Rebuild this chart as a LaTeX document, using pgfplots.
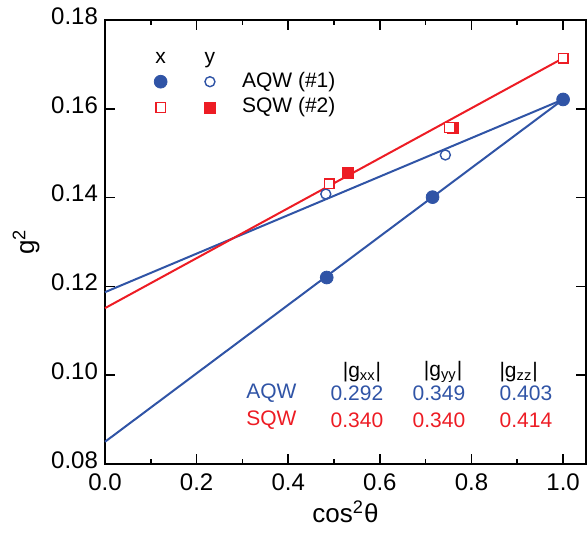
\documentclass[border=0pt]{standalone}
\usepackage{pgfplots}
\pgfplotsset{compat=1.18}
\usepackage{fontspec}
\setmainfont{Liberation Sans}
\definecolor{qblue}{RGB}{48,84,166}
\definecolor{qred}{RGB}{237,28,36}
\begin{document}
\begin{tikzpicture}
\begin{axis}[
  name=ax,
  scale only axis,
  width=240.5pt, height=222pt,
  xmin=0, xmax=1.05, ymin=0.08, ymax=0.18,
  xtick={0,0.2,0.4,0.6,0.8,1.0},
  minor x tick num=1,
  ytick={0.08,0.10,0.12,0.14,0.16,0.18},
  major tick length=5pt, minor tick length=2.5pt,
  every tick/.style={black, line width=0.8pt},
  axis line style={line width=0.9pt},
  /pgf/number format/assume math mode=true,
  tick label style={font=\fontsize{12}{14}\selectfont},
  xticklabel style={yshift=-1.5pt, /pgf/number format/.cd, fixed, fixed zerofill, precision=1},
  yticklabel style={yshift=2pt, /pgf/number format/.cd, fixed, fixed zerofill, precision=2},
  xlabel={cos\textsuperscript{2}θ},
  ylabel={g\textsuperscript{2}},
  label style={font=\fontsize{13}{15}\selectfont},
  xlabel style={yshift=2pt},
  ylabel style={yshift=-1pt},
  clip=false,
]
% fit lines
\addplot[qblue, line width=1pt, no marks] coordinates {(0,0.0850) (1,0.1621)};
\addplot[qblue, line width=1pt, no marks] coordinates {(0,0.1187) (1,0.1621)};
\addplot[qred, line width=1pt, no marks] coordinates {(0,0.1151) (1,0.1714)};
% AQW x (filled circles)
\addplot[only marks, mark=*, mark size=3.2pt, qblue, mark options={fill=qblue, draw=qblue}] coordinates {(0.484,0.1220) (0.715,0.1401) (1.0,0.1621)};
% AQW y (open circles)
\addplot[only marks, mark=o, mark size=2.5pt, qblue, mark options={fill=white, draw=qblue, line width=0.7pt}] coordinates {(0.482,0.1408) (0.743,0.1496)};
% SQW y (filled squares)
\addplot[only marks, mark=square*, mark size=2.75pt, qred, mark options={fill=qred, draw=qred}] coordinates {(0.530,0.1455) (0.760,0.1558)};
% SQW x (open squares)
\addplot[only marks, mark=square*, mark size=2.4pt, qred, mark options={fill=white, draw=qred, line width=0.7pt}] coordinates {(0.489,0.1431) (0.752,0.1558) (1.0,0.1714)};
% legend markers
\addplot[only marks, mark=*, mark size=3.2pt, qblue, mark options={fill=qblue}] coordinates {(0.1215,0.1661)};
\addplot[only marks, mark=o, mark size=2.5pt, qblue, mark options={line width=0.7pt}] coordinates {(0.2291,0.1661)};
\addplot[only marks, mark=square, mark size=2.4pt, qred, mark options={line width=0.7pt}] coordinates {(0.1215,0.1603)};
\addplot[only marks, mark=square*, mark size=2.75pt, qred, mark options={fill=qred}] coordinates {(0.2291,0.1603)};
\node[anchor=base, font=\fontsize{10.5}{12}\selectfont] at (axis cs:0.1215,0.1702) {x};
\node[anchor=base, font=\fontsize{10.5}{12}\selectfont] at (axis cs:0.2291,0.1702) {y};
\node[anchor=west, inner sep=0pt, font=\fontsize{10.5}{12}\selectfont] at (axis cs:0.2983,0.1661) {AQW (\#1)};
\node[anchor=west, inner sep=0pt, font=\fontsize{10.5}{12}\selectfont] at (axis cs:0.2983,0.1603) {SQW (\#2)};
% table
\node[font=\fontsize{10.5}{12}\selectfont] at (axis cs:0.561,0.1008) {|g\textsubscript{xx}|};
\node[font=\fontsize{10.5}{12}\selectfont] at (axis cs:0.738,0.1008) {|g\textsubscript{yy}|};
\node[font=\fontsize{10.5}{12}\selectfont] at (axis cs:0.903,0.1008) {|g\textsubscript{zz}|};
\node[anchor=west, inner sep=0pt, text=qblue, font=\fontsize{10.5}{12}\selectfont] at (axis cs:0.3077,0.0959) {AQW};
\node[anchor=west, inner sep=0pt, text=qred, font=\fontsize{10.5}{12}\selectfont] at (axis cs:0.3077,0.0899) {SQW};
\node[text=qblue, font=\fontsize{10.5}{12}\selectfont] at (axis cs:0.550,0.0959) {0.292};
\node[text=qblue, font=\fontsize{10.5}{12}\selectfont] at (axis cs:0.729,0.0959) {0.349};
\node[text=qblue, font=\fontsize{10.5}{12}\selectfont] at (axis cs:0.919,0.0959) {0.403};
\node[text=qred, font=\fontsize{10.5}{12}\selectfont] at (axis cs:0.550,0.0899) {0.340};
\node[text=qred, font=\fontsize{10.5}{12}\selectfont] at (axis cs:0.729,0.0899) {0.340};
\node[text=qred, font=\fontsize{10.5}{12}\selectfont] at (axis cs:0.919,0.0899) {0.414};
\end{axis}
\pgfresetboundingbox
\path[use as bounding box] (ax.south west) ++(-52.5pt,-34.5pt) rectangle ([shift={(1pt,10pt)}]ax.north east);
\end{tikzpicture}
\end{document}
